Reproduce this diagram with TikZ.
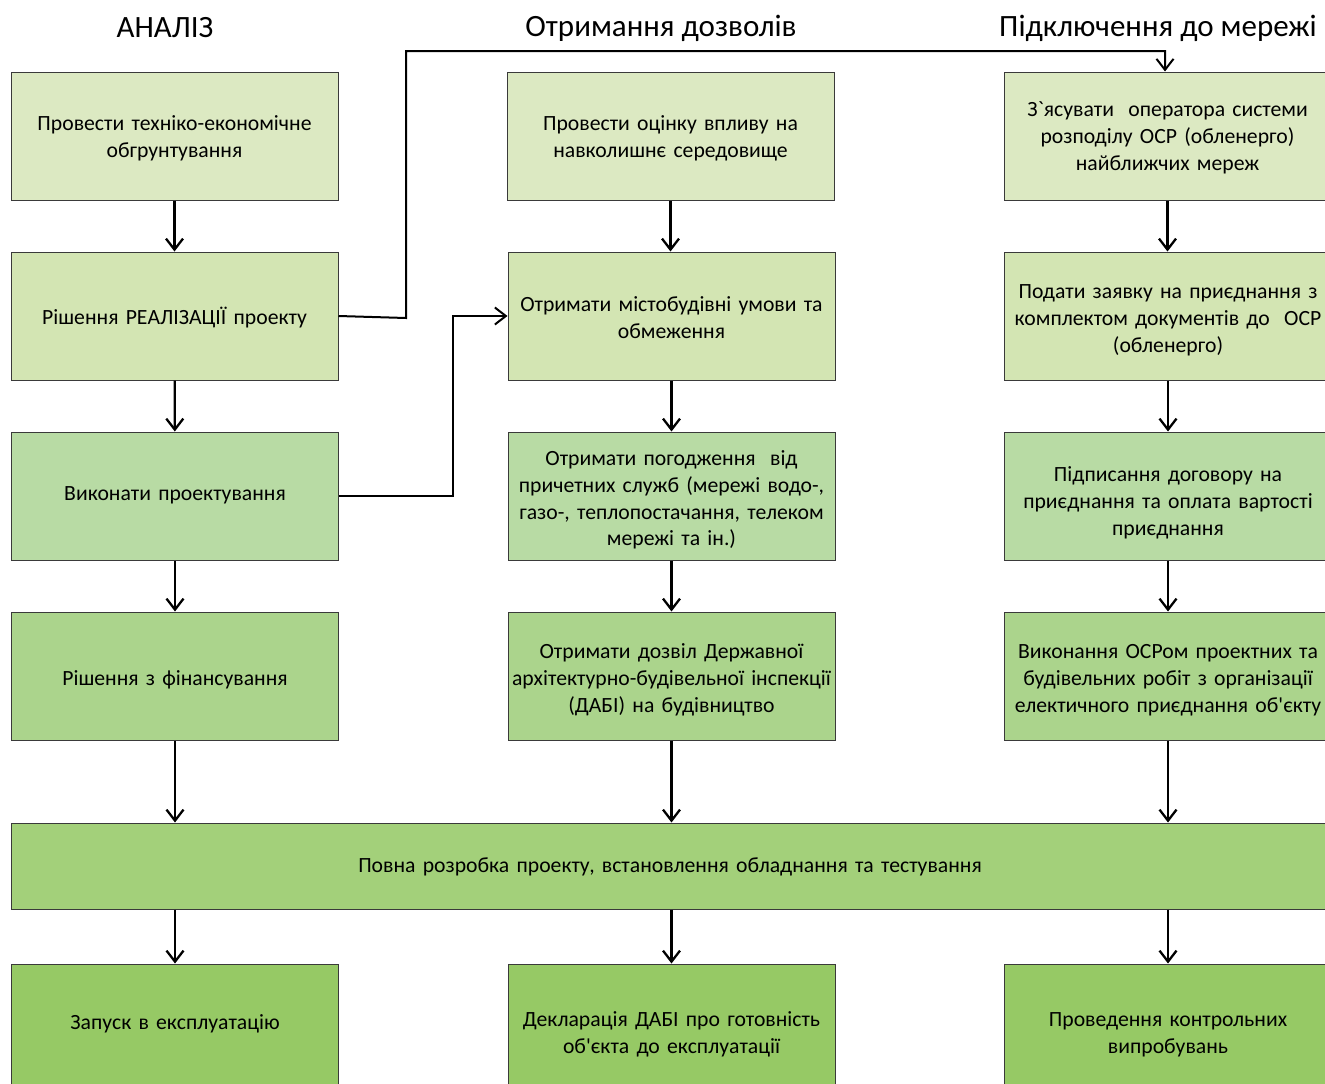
\documentclass[tikz,border=0pt]{standalone}
\usepackage{fontspec}
\setmainfont{Carlito}[Ligatures=TeXOff]
\usetikzlibrary{arrows.meta}
\definecolor{cA}{HTML}{DCE9C2}
\definecolor{cB}{HTML}{D3E5B3}
\definecolor{cC}{HTML}{B8DBA4}
\definecolor{cD}{HTML}{ABD48C}
\definecolor{cE}{HTML}{A3D07A}
\definecolor{cF}{HTML}{96C965}
\definecolor{edge}{HTML}{3A3A3A}
\tikzset{
  box/.style={draw=edge, line width=1pt, minimum width=327pt, minimum height=128pt,
    inner sep=0pt},
  txt/.style={inner sep=0pt, text width=322pt, align=center,
    font=\fontsize{21.7}{26.8}\selectfont},
  head/.style={font=\fontsize{31}{37}\selectfont, inner sep=0pt},
  arr/.style={line width=2.3pt, -{Straight Barb[length=11pt,width=17pt,line width=2.3pt]}},
  elb/.style={line width=2pt, -{Straight Barb[length=11pt,width=17pt,line width=2pt]}}
}
% #1 name, #2 position, #3 fill, #4 text shift (down, pt), #5 text
\newcommand{\stagebox}[5]{%
  \node[box, fill=#3] (#1) at (#2) {};
  \node[txt] (#1t) at ([yshift=-#4pt]#1.center) {#5};
}
\begin{document}
\begin{tikzpicture}[x=1pt,y=-1pt]
\useasboundingbox (0,0) rectangle (1325,1084);
% headers
\node[head] (h1) at (165,28) {АНАЛІЗ};
\node[head] (h2) at (661,28) {Отримання дозволів};
\node[head] (h3) at (1158,28) {Підключення до мережі};
% column 1
\stagebox{a1}{174.5,136}{cA}{2}{Провести техніко-економічне\\обгрунтування}
\stagebox{a2}{174.5,316}{cB}{2}{Рішення РЕАЛІЗАЦІЇ проекту}
\stagebox{a3}{175,496}{cC}{-1}{Виконати проектування}
\stagebox{a4}{175,676}{cD}{4}{Рішення з фінансування}
% column 2
\stagebox{b1}{670.5,136}{cA}{2}{Провести оцінку впливу на\\навколишнє середовище}
\stagebox{b2}{671.5,316}{cB}{2}{Отримати містобудівні умови та\\обмеження}
\stagebox{b3}{671.5,496}{cC}{4}{Отримати погодження~ від\\причетних служб (мережі водо-,\\газо-, теплопостачання, телеком\\мережі та ін.)}
\stagebox{b4}{671.5,676}{cD}{4}{Отримати дозвіл Державної\\архітектурно-будівельної інспекції\\(ДАБІ) на будівництво}
% column 3
\stagebox{c1}{1167.5,136}{cA}{2}{З`ясувати~ оператора системи\\розподілу ОСР (обленерго)\\найближчих мереж}
\stagebox{c2}{1168,316}{cB}{4}{Подати заявку на приєднання з\\комплектом документів до~ ОСР\\(обленерго)}
\stagebox{c3}{1168,496}{cC}{7}{Підписання договору на\\приєднання та оплата вартості\\приєднання}
\stagebox{c4}{1168,676}{cD}{4}{Виконання ОСРом проектних та\\будівельних робіт з організації\\електичного приєднання об'єкту}
% wide row
\node[box, fill=cE, minimum width=1318pt, minimum height=86pt] (r5) at (670,866) {};
\node[txt, text width=1300pt] (r5t) at ([yshift=-1pt]r5.center) {Повна розробка проекту, встановлення обладнання та тестування};
% bottom row
\stagebox{a6}{175,1028}{cF}{-4}{Запуск в експлуатацію}
\stagebox{b6}{671.5,1028}{cF}{6}{Декларація ДАБІ про готовність\\об'єкта до експлуатації}
\stagebox{c6}{1168,1028}{cF}{7}{Проведення контрольних\\випробувань}
% vertical arrows
\draw[arr] (a1) -- (a2);
\draw[arr] (a2) -- (a3);
\draw[arr] (a3) -- (a4);
\draw[arr] (a4.south) -- (a4.south |- r5.north);
\draw[arr] (a6.north |- r5.south) -- (a6.north);
\draw[arr] (b1.south) -- (b1.south |- b2.north);
\draw[arr] (b2) -- (b3);
\draw[arr] (b3) -- (b4);
\draw[arr] (b4.south) -- (b4.south |- r5.north);
\draw[arr] (b6.north |- r5.south) -- (b6.north);
\draw[arr] (c1.south) -- (c1.south |- c2.north);
\draw[arr] (c2) -- (c3);
\draw[arr] (c3) -- (c4);
\draw[arr] (c4.south) -- (c4.south |- r5.north);
\draw[arr] (c6.north |- r5.south) -- (c6.north);
% elbow connectors
\coordinate (k1) at (406,318);
\coordinate (k2) at (406,51);
\coordinate (k3) at (1165,51);
\draw[elb] (a2.east) -- (k1) -- (k2) -- (k3) -- (k3 |- c1.north);
\coordinate (m1) at (453,496);
\draw[elb] (a3.east) -- (m1) |- (b2.west);
\end{tikzpicture}
\end{document}
